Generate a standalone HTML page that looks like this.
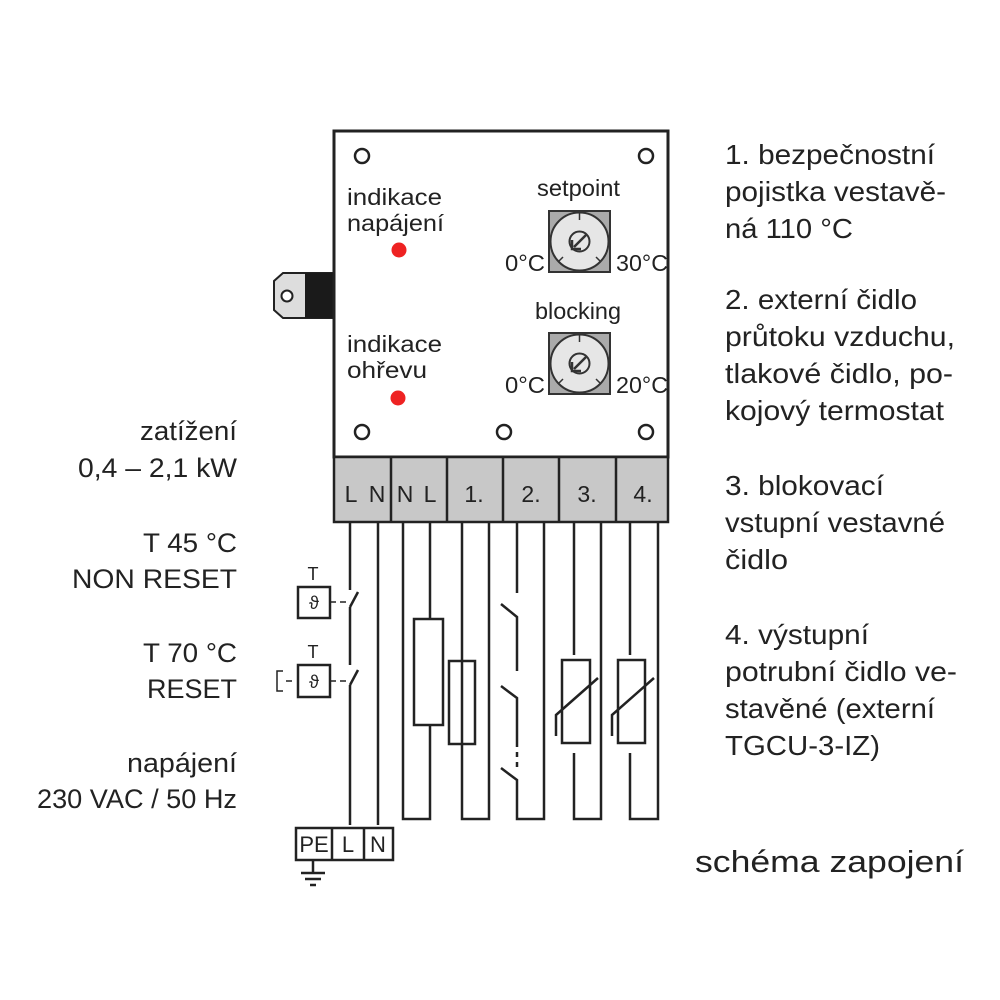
<!DOCTYPE html>
<html><head><meta charset="utf-8"><style>
html,body{margin:0;padding:0;background:#fff;}
svg{display:block;}
text{font-family:"Liberation Sans",sans-serif;fill:#222;}
</style></head><body>
<svg width="1000" height="1000" viewBox="0 0 1000 1000" xmlns="http://www.w3.org/2000/svg">
<path d="M283 273 L334 273 L334 318 L283 318 L274 310 L274 281 Z" fill="#ddd" stroke="#222" stroke-width="2"/>
<rect x="305" y="273" width="29" height="45" fill="#1a1a1a"/>
<circle cx="287" cy="296" r="5.5" fill="#fff" stroke="#222" stroke-width="2"/>
<rect x="334" y="131" width="334" height="326" fill="#fff" stroke="#222" stroke-width="3"/>
<g fill="#fff" stroke="#222" stroke-width="2.5">
<circle cx="362" cy="156" r="7"/><circle cx="646" cy="156" r="7"/>
<circle cx="362" cy="432" r="7"/><circle cx="504" cy="432" r="7"/><circle cx="646" cy="432" r="7"/>
</g>
<circle cx="399" cy="250" r="7.5" fill="#e22"/>
<circle cx="398" cy="398" r="7.5" fill="#e22"/>
<g font-size="23">
<text x="347" y="205" textLength="95" lengthAdjust="spacingAndGlyphs">indikace</text><text x="347" y="231" textLength="97" lengthAdjust="spacingAndGlyphs">napájení</text>
<text x="347" y="352" textLength="95" lengthAdjust="spacingAndGlyphs">indikace</text><text x="347" y="378" textLength="80" lengthAdjust="spacingAndGlyphs">ohřevu</text>
<text x="537" y="196" textLength="83" lengthAdjust="spacingAndGlyphs">setpoint</text>
<text x="535" y="319" textLength="86" lengthAdjust="spacingAndGlyphs">blocking</text>
<text x="505" y="271" textLength="40" lengthAdjust="spacingAndGlyphs">0°C</text><text x="616" y="271" textLength="52" lengthAdjust="spacingAndGlyphs">30°C</text>
<text x="505" y="393" textLength="40" lengthAdjust="spacingAndGlyphs">0°C</text><text x="616" y="393" textLength="52" lengthAdjust="spacingAndGlyphs">20°C</text>
</g>
<g id="k">
<rect x="549" y="211" width="61" height="61" fill="#aaa" stroke="#333" stroke-width="2"/>
<circle cx="579.5" cy="241.5" r="29" fill="#e6e6e6" stroke="#333" stroke-width="2"/>
<line x1="579.5" y1="213" x2="579.5" y2="220" stroke="#333" stroke-width="1.5"/>
<line x1="558" y1="262" x2="563" y2="257" stroke="#333" stroke-width="1.5"/>
<line x1="601" y1="262" x2="596" y2="257" stroke="#333" stroke-width="1.5"/>
<circle cx="579.5" cy="241.5" r="10" fill="none" stroke="#333" stroke-width="2"/>
<path d="M586 235 L574 247 M572 240 L572 249 L581 249" fill="none" stroke="#333" stroke-width="2.5"/>
</g>
<use href="#k" y="122"/>
<rect x="334" y="457" width="334" height="65" fill="#c8c8c8" stroke="#222" stroke-width="2.5"/>
<g stroke="#222" stroke-width="2.5">
<line x1="391" y1="457" x2="391" y2="522"/><line x1="447" y1="457" x2="447" y2="522"/>
<line x1="503" y1="457" x2="503" y2="522"/><line x1="559" y1="457" x2="559" y2="522"/>
<line x1="616" y1="457" x2="616" y2="522"/>
</g>
<g font-size="23" text-anchor="middle">
<text x="351" y="502">L</text><text x="377" y="502">N</text><text x="405" y="502">N</text><text x="430" y="502">L</text>
<text x="474" y="502">1.</text><text x="531" y="502">2.</text><text x="587" y="502">3.</text><text x="643" y="502">4.</text>
</g>
<g fill="none" stroke="#222" stroke-width="2.5">
<path d="M350 522 V590 M350 607 V665 M350 685 V825"/>
<path d="M350 607 L358 592 M350 685 L358 670"/>
<path d="M378 522 V825"/>
<path d="M403 522 V819 H430 V725 M430 522 V619"/>
<rect x="414" y="619" width="29" height="106"/>
<path d="M462 522 V819 H489 V522"/>
<rect x="449" y="661" width="26" height="83"/>
<path d="M517 522 V593 M501 604 L517 617 V671 M501 686 L517 698 V747 M501 768 L517 780 V819 H544 V522"/>
<path d="M517 752 V757 M517 762 V767" />
<path d="M574 522 V655 M574 753 V819 H601 V522"/>
<rect x="562" y="660" width="28" height="83"/>
<path d="M556 736 V715 L598 678"/>
<path d="M630 522 V655 M630 753 V819 H658 V522"/>
<rect x="618" y="660" width="27" height="83"/>
<path d="M612 736 V715 L654 678"/>
<rect x="298" y="587" width="32" height="31"/>
<rect x="298" y="665" width="32" height="32"/>
<path d="M330 602 H336 M340 602 H346 M330 681 H336 M340 681 H346 M292 681 H286" stroke-width="1.5"/>
<path d="M283 671 H277 V691 H283" stroke-width="1.5"/>
<rect x="296" y="828" width="97" height="32"/>
<path d="M332 828 V860 M364 828 V860"/>
<path d="M313 860 V873 M301 873 H325 M305 879 H321 M310 885 H316"/>
</g>
<g font-size="18" text-anchor="middle">
<text x="313" y="580">T</text><text x="313" y="658">T</text>
<text x="314" y="609">ϑ</text><text x="314" y="688">ϑ</text>
</g>
<g font-size="22" text-anchor="middle">
<text x="314" y="852">PE</text><text x="348" y="852">L</text><text x="378" y="852">N</text>
</g>
<g font-size="27">
<text x="140" y="440" textLength="97" lengthAdjust="spacingAndGlyphs">zatížení</text><text x="78" y="477" textLength="159" lengthAdjust="spacingAndGlyphs">0,4 – 2,1 kW</text>
<text x="143" y="552" textLength="94" lengthAdjust="spacingAndGlyphs">T 45 °C</text><text x="72" y="588" textLength="165" lengthAdjust="spacingAndGlyphs">NON RESET</text>
<text x="143" y="662" textLength="94" lengthAdjust="spacingAndGlyphs">T 70 °C</text><text x="147" y="698" textLength="90" lengthAdjust="spacingAndGlyphs">RESET</text>
<text x="127" y="772" textLength="110" lengthAdjust="spacingAndGlyphs">napájení</text><text x="37" y="808" textLength="200" lengthAdjust="spacingAndGlyphs">230 VAC / 50 Hz</text>
</g>
<g font-size="27.5">
<text x="725" y="164" textLength="210" lengthAdjust="spacingAndGlyphs">1. bezpečnostní</text><text x="725" y="201" textLength="221" lengthAdjust="spacingAndGlyphs">pojistka vestavě-</text><text x="725" y="238" textLength="128" lengthAdjust="spacingAndGlyphs">ná 110 °C</text>
<text x="725" y="309" textLength="192" lengthAdjust="spacingAndGlyphs">2. externí čidlo</text><text x="725" y="346" textLength="230" lengthAdjust="spacingAndGlyphs">průtoku vzduchu,</text><text x="725" y="383" textLength="228" lengthAdjust="spacingAndGlyphs">tlakové čidlo, po-</text><text x="725" y="420" textLength="219" lengthAdjust="spacingAndGlyphs">kojový termostat</text>
<text x="725" y="495" textLength="159" lengthAdjust="spacingAndGlyphs">3. blokovací</text><text x="725" y="532" textLength="220" lengthAdjust="spacingAndGlyphs">vstupní vestavné</text><text x="725" y="569" textLength="63" lengthAdjust="spacingAndGlyphs">čidlo</text>
<text x="725" y="644" textLength="144" lengthAdjust="spacingAndGlyphs">4. výstupní</text><text x="725" y="681" textLength="232" lengthAdjust="spacingAndGlyphs">potrubní čidlo ve-</text><text x="725" y="718" textLength="210" lengthAdjust="spacingAndGlyphs">stavěné (externí</text><text x="725" y="755" textLength="155" lengthAdjust="spacingAndGlyphs">TGCU-3-IZ)</text>
<text x="695" y="872" font-size="31" textLength="269" lengthAdjust="spacingAndGlyphs">schéma zapojení</text>
</g>
</svg>
</body></html>
